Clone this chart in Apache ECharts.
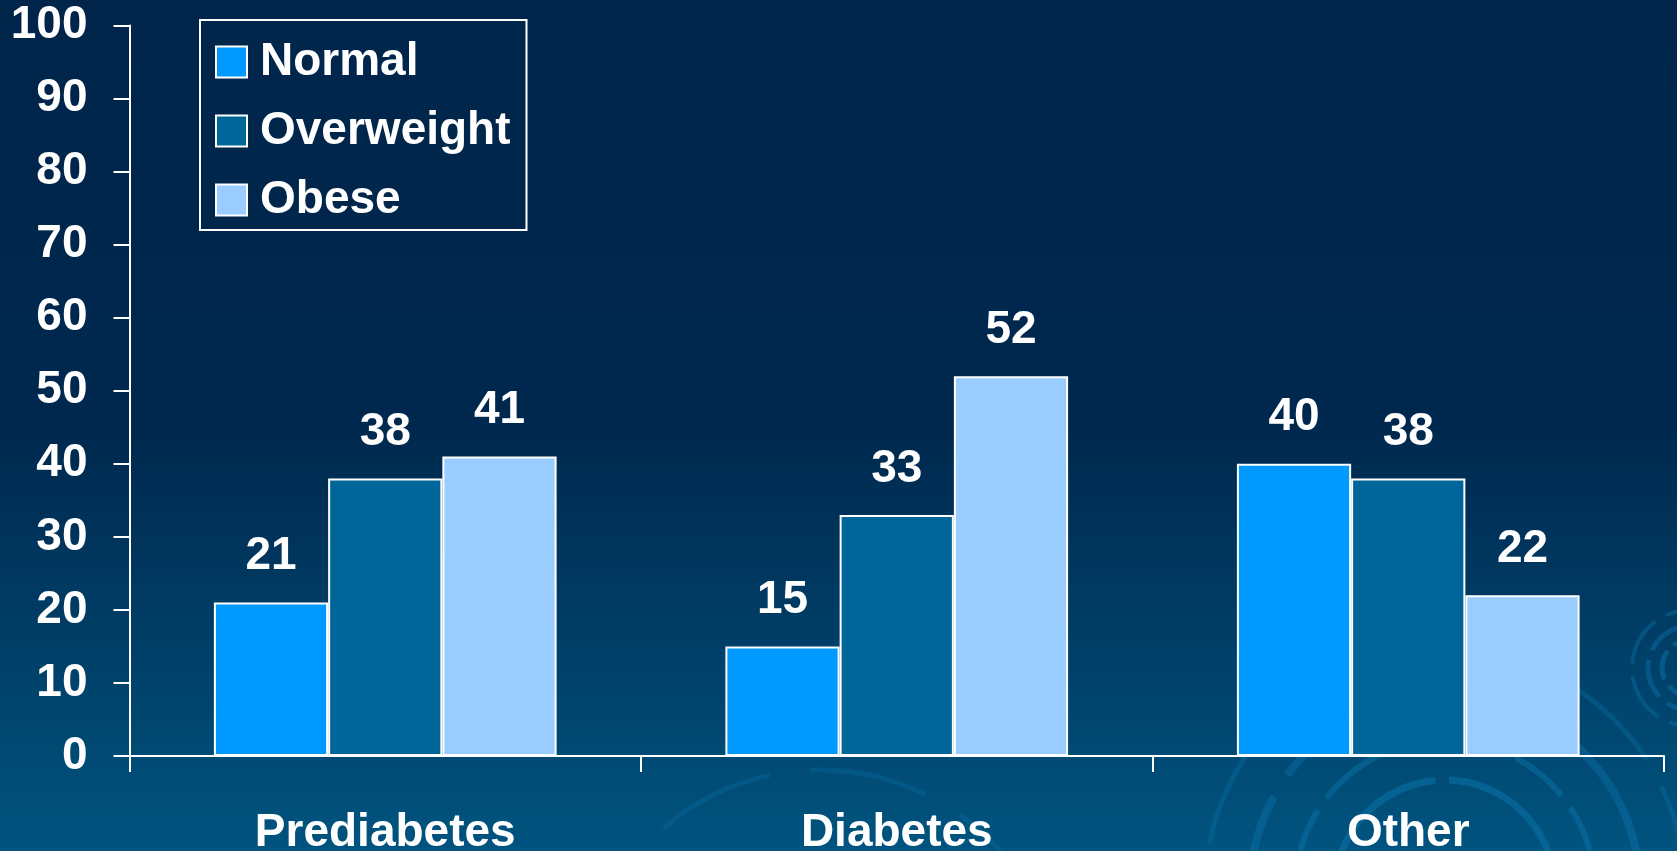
<!DOCTYPE html>
<html>
<head>
<meta charset="utf-8">
<script src="https://cdn.jsdelivr.net/npm/echarts@6/dist/echarts.min.js"></script>
<style>
html,body{margin:0;padding:0;background:#00264c;}
#chart{width:1677px;height:851px;}
</style>
</head>
<body>
<div id="chart"></div>
<script>
const categories = ['Prediabetes', 'Diabetes', 'Other'];
const normalValues = [21, 15, 40];
const overweightValues = [38, 33, 38];
const obeseValues = [41, 52, 22];
const seriesNames = ['Normal', 'Overweight', 'Obese'];
const seriesColors = ['#0099ff', '#006699', '#99ccff'];
const yTicks = [0, 10, 20, 30, 40, 50, 60, 70, 80, 90, 100];

const FONT = 'Liberation Sans, Arial, sans-serif';
const chart = echarts.init(document.getElementById('chart'));

function ring(cx, cy, r, w, dash, op) {
  return {
    type: 'circle', silent: true, z: -10,
    shape: {cx: cx, cy: cy, r: r},
    style: {fill: 'none', stroke: '#0a72a8', lineWidth: w, lineDash: dash, opacity: op}
  };
}

const dataSets = [normalValues, overweightValues, obeseValues];

chart.setOption({
  backgroundColor: {
    type: 'linear', x: 0, y: 0, x2: 0, y2: 1,
    colorStops: [
      {offset: 0, color: '#00244a'},
      {offset: 0.5, color: '#00284e'},
      {offset: 1, color: '#00547f'}
    ]
  },
  animation: false,
  graphic: [
    ring(1445, 890, 110, 7, [160, 14], 0.55),
    ring(1445, 890, 150, 6, [190, 20, 60, 15], 0.5),
    ring(1445, 890, 195, 8, [220, 25], 0.45),
    ring(1445, 890, 240, 5, [170, 30], 0.35),
    ring(1690, 668, 28, 5, [30, 8], 0.5),
    ring(1690, 668, 42, 5, [40, 10], 0.45),
    ring(1690, 668, 58, 4, [50, 12], 0.4),
    ring(820, 1010, 240, 5, [120, 40], 0.3)
  ],
  grid: {left: 129.5, right: 13, top: 25.5, bottom: 95, containLabel: false, outerBoundsMode: 'none'},
  legend: {
    left: 200, top: 20,
    orient: 'vertical',
    data: seriesNames,
    itemWidth: 31, itemHeight: 31,
    itemGap: 23,
    padding: [19, 16, 7, 15],
    backgroundColor: '#00264b',
    borderColor: '#ffffff', borderWidth: 2,
    icon: 'rect',
    itemStyle: {borderColor: '#ffffff', borderWidth: 2},
    textStyle: {color: '#ffffff', fontSize: 46, fontWeight: 'bold', fontFamily: FONT, padding: [0, 0, 0, 8], lineHeight: 46}
  },
  xAxis: {
    type: 'category',
    data: categories,
    axisLine: {lineStyle: {color: '#ffffff', width: 2}},
    axisTick: {show: true, length: 16, lineStyle: {color: '#ffffff', width: 2}},
    axisLabel: {color: '#ffffff', fontSize: 46, fontWeight: 'bold', fontFamily: FONT, margin: 54, lineHeight: 46}
  },
  yAxis: {
    type: 'value',
    min: 0, max: 100, interval: 10,
    axisLine: {show: true, lineStyle: {color: '#ffffff', width: 2}},
    axisTick: {show: true, length: 16, lineStyle: {color: '#ffffff', width: 2}},
    splitLine: {show: false},
    axisLabel: {
      color: '#ffffff', fontSize: 46, fontWeight: 'bold', fontFamily: FONT, margin: 42,
      formatter: function (v) { return yTicks.indexOf(v) >= 0 ? String(v) : ''; }
    }
  },
  series: seriesNames.map(function (name, i) {
    return {
      name: name,
      type: 'bar',
      data: dataSets[i],
      barGap: '0%',
      barCategoryGap: '33%',
      itemStyle: {color: seriesColors[i], borderColor: '#ffffff', borderWidth: 2},
      label: {
        show: true, position: 'top', distance: 23,
        color: '#ffffff', fontSize: 46, fontWeight: 'bold', fontFamily: FONT, lineHeight: 46
      }
    };
  })
});
</script>
</body>
</html>
